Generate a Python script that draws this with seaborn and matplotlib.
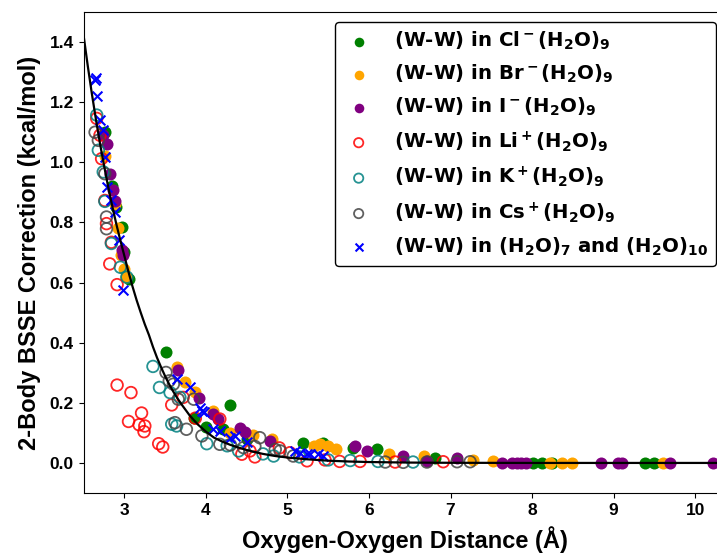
import matplotlib
matplotlib.use("Agg")
import matplotlib.pyplot as plt
import seaborn as sns

# fitted curve
fit_x = [2.50, 2.55, 2.60, 2.65, 2.70, 2.75, 2.80, 2.85, 2.90, 2.95, 3.00, 3.05, 3.10, 3.15,
         3.20, 3.25, 3.30, 3.35, 3.40, 3.45, 3.50, 3.55, 3.60, 3.65, 3.70, 3.80, 3.90, 4.00,
         4.10, 4.20, 4.30, 4.40, 4.50, 4.60, 4.70, 4.85, 5.00, 5.25, 5.50, 5.75, 6.00, 6.50,
         7.00, 8.00, 10.4]
fit_y = [1.420, 1.321, 1.229, 1.143, 1.063, 0.989, 0.919, 0.855, 0.795, 0.740, 0.688, 0.635, 0.586, 0.541,
         0.500, 0.461, 0.426, 0.386, 0.350, 0.318, 0.288, 0.261, 0.237, 0.215, 0.195, 0.158, 0.128, 0.104,
         0.084, 0.071, 0.060, 0.051, 0.043, 0.036, 0.030, 0.023, 0.018, 0.012, 0.0075, 0.0048, 0.003, 0.0012,
         0.0005, 0.0, 0.0]

cl_x = [2.76, 2.85, 2.90, 2.97, 3.00, 3.05, 3.51, 3.85, 4.00, 4.21, 4.30, 4.50, 5.19, 5.44, 5.80,
        6.10, 6.81, 8.01, 8.12, 8.24, 9.39, 9.49]
cl_y = [1.10, 0.92, 0.85, 0.784, 0.70, 0.612, 0.37, 0.15, 0.12, 0.112, 0.193, 0.08, 0.066, 0.066, 0.05,
        0.045, 0.018, 0.0, 0.0, 0.0, 0.0, 0.0]

br_x = [2.76, 2.88, 2.92, 2.96, 2.99, 3.02, 3.64, 3.74, 3.87, 4.09, 4.30, 4.58, 4.81, 5.32, 5.40,
        5.50, 5.60, 6.24, 6.67, 7.28, 7.52, 8.22, 8.37, 8.49, 9.61]
br_y = [1.02, 0.86, 0.78, 0.69, 0.646, 0.62, 0.318, 0.27, 0.237, 0.173, 0.10, 0.093, 0.079, 0.057, 0.062,
        0.055, 0.045, 0.031, 0.023, 0.01, 0.007, 0.0, 0.0, 0.0, 0.0]

i_x = [2.74, 2.78, 2.82, 2.86, 2.88, 2.97, 2.98, 3.66, 3.91, 4.09, 4.15, 4.42, 4.48, 4.79, 5.83,
       5.97, 6.42, 6.71, 7.08, 7.63, 7.75, 7.81, 7.87, 7.92, 8.84, 9.06, 9.10, 9.69, 10.22]
i_y = [1.09, 1.062, 0.962, 0.907, 0.87, 0.707, 0.69, 0.309, 0.216, 0.164, 0.146, 0.116, 0.104, 0.073, 0.057,
       0.04, 0.023, 0.007, 0.018, 0.0, 0.0, 0.0, 0.0, 0.0, 0.0, 0.0, 0.0, 0.0, 0.0]

li_x = [2.66, 2.70, 2.72, 2.76, 2.78, 2.82, 2.84, 2.91, 2.91, 3.08, 3.21, 3.05, 3.18, 3.25, 3.24,
        3.42, 3.47, 3.58, 3.72, 3.87, 4.17, 4.44, 4.54, 4.60, 4.90, 5.03, 5.24, 5.46, 5.64, 5.89,
        6.32, 6.91]
li_y = [1.146, 1.09, 1.012, 0.873, 0.796, 0.662, 0.734, 0.593, 0.259, 0.234, 0.166, 0.138, 0.127, 0.123, 0.104,
        0.064, 0.053, 0.193, 0.218, 0.149, 0.146, 0.029, 0.04, 0.02, 0.05, 0.034, 0.007, 0.01, 0.005, 0.005,
        0.003, 0.004]

k_x = [2.66, 2.68, 2.74, 2.76, 2.84, 2.95, 3.03, 3.35, 3.43, 3.56, 3.58, 3.64, 3.68, 4.01, 4.26,
       4.40, 4.70, 4.83, 5.15, 5.50, 5.77, 6.11, 6.54]
k_y = [1.157, 1.04, 0.968, 0.87, 0.73, 0.651, 0.618, 0.321, 0.251, 0.234, 0.129, 0.123, 0.218, 0.064, 0.057,
       0.04, 0.03, 0.023, 0.02, 0.01, 0.008, 0.005, 0.003]

cs_x = [2.64, 2.68, 2.76, 2.78, 2.78, 3.51, 3.55, 3.60, 3.66, 3.62, 3.76, 3.85, 3.95, 4.17, 4.30,
        4.46, 4.60, 4.66, 4.85, 4.91, 5.07, 6.20, 6.42, 6.71, 7.08, 7.24]
cs_y = [1.10, 1.073, 0.962, 0.818, 0.779, 0.301, 0.273, 0.262, 0.212, 0.134, 0.112, 0.212, 0.09, 0.062, 0.06,
        0.051, 0.055, 0.084, 0.045, 0.04, 0.023, 0.003, 0.002, 0.003, 0.004, 0.004]

wat_x = [2.64, 2.65, 2.66, 2.70, 2.74, 2.76, 2.78, 2.84, 2.88, 2.93, 2.98, 3.64, 3.80, 3.93, 3.97,
         3.95, 4.09, 4.17, 4.30, 4.36, 4.50, 5.09, 5.15, 5.24, 5.28, 5.38, 5.44]
wat_y = [1.273, 1.28, 1.22, 1.14, 1.107, 1.018, 0.918, 0.873, 0.834, 0.74, 0.576, 0.279, 0.251, 0.184, 0.168,
         0.173, 0.112, 0.107, 0.084, 0.09, 0.068, 0.04, 0.034, 0.029, 0.029, 0.031, 0.023]

labels = [r'(W-W) in Cl$^-$(H$_2$O)$_9$',
          r'(W-W) in Br$^-$(H$_2$O)$_9$',
          r'(W-W) in I$^-$(H$_2$O)$_9$',
          r'(W-W) in Li$^+$(H$_2$O)$_9$',
          r'(W-W) in K$^+$(H$_2$O)$_9$',
          r'(W-W) in Cs$^+$(H$_2$O)$_9$',
          r'(W-W) in (H$_2$O)$_7$ and (H$_2$O)$_{10}$']

sns.set_style("ticks")
plt.rcParams['font.family'] = ['DejaVu Sans']
plt.rcParams['mathtext.default'] = 'bf'
plt.rcParams['mathtext.fontset'] = 'dejavusans'
for k in ['text.color', 'axes.labelcolor', 'xtick.color', 'ytick.color', 'axes.edgecolor']:
    plt.rcParams[k] = 'black'

fig = plt.figure(figsize=(7.17, 5.57), dpi=100)
ax = fig.add_axes([0.1167, 0.1149, 0.896, 0.8636])

for xs, ys, c, lab in [(cl_x, cl_y, 'green', labels[0]),
                       (br_x, br_y, 'orange', labels[1]),
                       (i_x, i_y, 'purple', labels[2])]:
    sns.scatterplot(x=xs, y=ys, ax=ax, color=c, s=75, linewidth=0, label=lab)

for xs, ys, c, lab in [(li_x, li_y, 'red', labels[3]),
                       (k_x, k_y, 'teal', labels[4]),
                       (cs_x, cs_y, '#444444', labels[5])]:
    sns.scatterplot(x=xs, y=ys, ax=ax, s=70, facecolor='none', edgecolor=c,
                    linewidth=1.3, alpha=0.85, label=lab)

sns.scatterplot(x=wat_x, y=wat_y, ax=ax, marker='x', color='blue', s=50, linewidth=1.5,
                label=labels[6])

sns.lineplot(x=fit_x, y=fit_y, ax=ax, color='black', linewidth=1.6, sort=False)

ax.set_xlim(2.5, 10.38)
ax.set_ylim(-0.1, 1.5)
ax.set_xticks([3, 4, 5, 6, 7, 8, 9, 10])
ax.set_yticks([0.0, 0.2, 0.4, 0.6, 0.8, 1.0, 1.2, 1.4])
ax.set_yticklabels(['0.0', '0.2', '0.4', '0.6', '0.8', '1.0', '1.2', '1.4'])

narrow = ['Liberation Sans', 'DejaVu Sans']
for t in ax.get_xticklabels() + ax.get_yticklabels():
    t.set_family(narrow)
    t.set_weight('bold')
    t.set_fontsize(12.5)
ax.set_xlabel('Oxygen-Oxygen Distance (Å)', family=narrow, fontweight='bold', fontsize=17,
              labelpad=6)
ax.set_ylabel('2-Body BSSE Correction (kcal/mol)', family=narrow, fontweight='bold', fontsize=17,
              labelpad=6)

leg = ax.legend(loc='upper right', prop={'weight': 'bold', 'size': 14.2}, markerscale=0.8,
                frameon=True, framealpha=1, edgecolor='black', fancybox=True,
                handlelength=1.6, handletextpad=1.0, labelspacing=0.55)

fig.savefig('out.png', dpi=100)
